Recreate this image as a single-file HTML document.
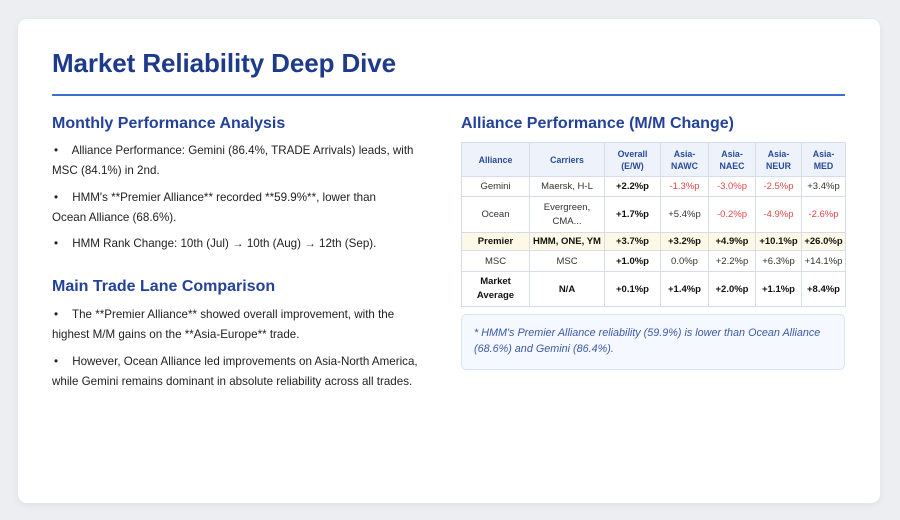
<!DOCTYPE html>
<html><head><meta charset="utf-8"><style>
*{margin:0;padding:0;box-sizing:border-box}
body{width:900px;height:520px;background:#eceef2;font-family:"Liberation Sans",sans-serif;position:relative;overflow:hidden}
.card{position:absolute;left:18px;top:19px;width:862px;height:484px;background:#fff;border-radius:9px;box-shadow:0 2px 8px rgba(0,0,0,.06)}
h1{position:absolute;left:52px;top:48px;font-size:26px;font-weight:bold;color:#1e3a8a;letter-spacing:-0.1px}
.rule{position:absolute;left:52px;top:94px;width:793px;height:2px;background:#3d6fcf}
h2{position:absolute;font-size:16px;font-weight:bold;color:#24429a}
.p{position:absolute;left:52px;font-size:11.6px;color:#222;line-height:20px;white-space:nowrap}
.p b{font-weight:normal;display:inline-block;width:17px;padding-left:2px}
table{position:absolute;left:461px;top:142px;border-collapse:collapse;font-size:9.5px;color:#333}
td{border:1px solid #d6dde8;text-align:center;padding:0}
tr.h td{background:#eef3fb;color:#2a4a9c;font-weight:bold;font-size:8.8px;line-height:12px}
.r{color:#e0474c}.k{font-weight:bold;color:#111}
tr.pr td{background:#fdf9e6;font-weight:bold;color:#111}
.note{position:absolute;left:461px;top:314px;width:384px;height:56px;background:#f5f8fe;border:1px solid #dbe4f3;border-radius:5px;padding:10px 12px;font-size:10.8px;line-height:16px;font-style:italic;color:#3a5aa8}
</style></head><body>
<div class="card"></div>
<h1>Market Reliability Deep Dive</h1>
<div class="rule"></div>
<h2 style="left:52px;top:115px">Monthly Performance Analysis</h2>
<div class="p" style="top:141px"><b>•</b> Alliance Performance: Gemini (86.4%, TRADE Arrivals) leads, with<br>MSC (84.1%) in 2nd.</div>
<div class="p" style="top:188px"><b>•</b> HMM's **Premier Alliance** recorded **59.9%**, lower than<br>Ocean Alliance (68.6%).</div>
<div class="p" style="top:234px"><b>•</b> HMM Rank Change: 10th (Jul) → 10th (Aug) → 12th (Sep).</div>
<h2 style="left:52px;top:278px">Main Trade Lane Comparison</h2>
<div class="p" style="top:305px"><b>•</b> The **Premier Alliance** showed overall improvement, with the<br>highest M/M gains on the **Asia-Europe** trade.</div>
<div class="p" style="top:352px"><b>•</b> However, Ocean Alliance led improvements on Asia-North America,<br>while Gemini remains dominant in absolute reliability across all trades.</div>
<h2 style="left:461px;top:115px">Alliance Performance (M/M Change)</h2>
<table>
<colgroup><col style="width:68px"><col style="width:75px"><col style="width:56px"><col style="width:48px"><col style="width:47px"><col style="width:46px"><col style="width:44px"></colgroup>
<tr class="h" style="height:34px"><td>Alliance</td><td>Carriers</td><td>Overall<br>(E/W)</td><td>Asia-<br>NAWC</td><td>Asia-<br>NAEC</td><td>Asia-<br>NEUR</td><td>Asia-<br>MED</td></tr>
<tr style="height:20px"><td>Gemini</td><td>Maersk, H-L</td><td class="k">+2.2%p</td><td class="r">-1.3%p</td><td class="r">-3.0%p</td><td class="r">-2.5%p</td><td>+3.4%p</td></tr>
<tr style="height:36px"><td>Ocean</td><td style="line-height:14px">Evergreen,<br>CMA...</td><td class="k">+1.7%p</td><td>+5.4%p</td><td class="r">-0.2%p</td><td class="r">-4.9%p</td><td class="r">-2.6%p</td></tr>
<tr class="pr" style="height:18px"><td>Premier</td><td>HMM, ONE, YM</td><td>+3.7%p</td><td>+3.2%p</td><td>+4.9%p</td><td>+10.1%p</td><td>+26.0%p</td></tr>
<tr style="height:21px"><td>MSC</td><td>MSC</td><td class="k">+1.0%p</td><td>0.0%p</td><td>+2.2%p</td><td>+6.3%p</td><td>+14.1%p</td></tr>
<tr style="height:35px"><td class="k" style="line-height:14px">Market<br>Average</td><td class="k">N/A</td><td class="k">+0.1%p</td><td class="k">+1.4%p</td><td class="k">+2.0%p</td><td class="k">+1.1%p</td><td class="k">+8.4%p</td></tr>
</table>
<div class="note">* HMM's Premier Alliance reliability (59.9%) is lower than Ocean Alliance (68.6%) and Gemini (86.4%).</div>
</body></html>
